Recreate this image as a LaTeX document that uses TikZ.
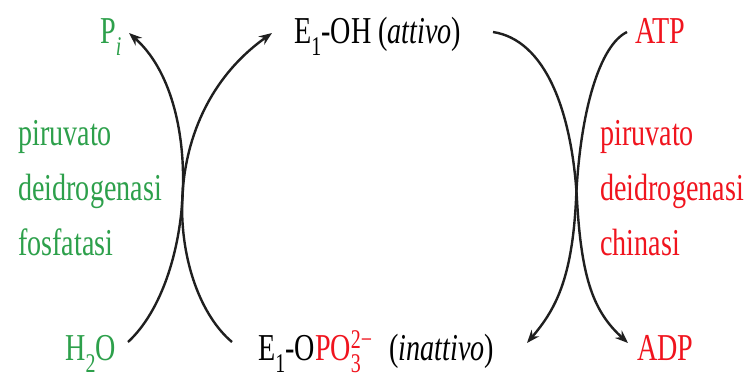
\documentclass[tikz,border=0pt]{standalone}
\usepackage{fontspec}
\setmainfont{Liberation Serif}[FakeStretch=0.74]
\usetikzlibrary{arrows.meta}
\definecolor{pgreen}{RGB}{45,160,75}
\definecolor{pred}{RGB}{240,20,30}
\newcommand\smallfnt{\fontsize{27}{27}\selectfont}
\newcommand\lowsub[1]{\raisebox{-0.34em}{\smallfnt #1}}
\newsavebox\ssbox
\newcommand\supsub[2]{\sbox\ssbox{\smallfnt #1}\makebox[\wd\ssbox][l]{\rlap{\raisebox{0.3em}{\usebox\ssbox}}\raisebox{-0.34em}{\smallfnt #2}}}
\begin{document}
\begin{tikzpicture}[x=1pt,y=-1pt,
  lbl/.style={anchor=base west, inner sep=0pt, font=\fontsize{38}{46}\selectfont},
  conn/.style={line width=2.4pt, draw=black!88},
  tip/.style={-{Stealth[length=13pt,width=10pt]}}]
\useasboundingbox (0,0) rectangle (749,378);
% top row
\node[lbl, text=pgreen] (pi) at (100,43) {P\lowsub{\itshape i}};
\node[lbl] (act) at (294,43) {E\lowsub{1}-OH (\textit{attivo})};
\node[lbl, text=pred] (atp) at (635,43) {ATP};
% bottom row
\node[lbl, text=pgreen] (h2o) at (65,360) {H\lowsub{2}O};
\node[lbl] (inact) at (258,360) {E\lowsub{1}-O\textcolor{pred}{PO\supsub{2−}{3}}\hspace{10pt} (\textit{inattivo})};
\node[lbl, text=pred] (adp) at (637,360) {ADP};
% enzyme labels
\node[lbl, text=pgreen] (f1) at (18,145) {piruvato};
\node[lbl, text=pgreen] (f2) at (18,200) {deidrogenasi};
\node[lbl, text=pgreen] (f3) at (18,255) {fosfatasi};
\node[lbl, text=pred] (k1) at (600,145) {piruvato};
\node[lbl, text=pred] (k2) at (600,200) {deidrogenasi};
\node[lbl, text=pred] (k3) at (600,255) {chinasi};
% connector ends
\coordinate (h2oE) at (128,342);
\coordinate (piE) at (129,33);
\coordinate (inactW) at (232,342);
\coordinate (actW) at (272,33);
\coordinate (actE) at (493,32);
\coordinate (adpW) at (628,343);
\coordinate (atpW) at (627,32);
\coordinate (inactE) at (527,343);
% left crossing (phosphatase)
\draw[conn, tip] (h2oE) .. controls (195,280) and (205,100) .. (piE);
\draw[conn, tip] (inactW) .. controls (170,290) and (150,120) .. (actW);
% right crossing (kinase)
\draw[conn, tip] (actE) .. controls (545,40) and (572,110) .. (577,200)
  .. controls (581.5,280) and (594,312) .. (adpW);
\draw[conn, tip] (atpW) .. controls (600,45) and (580,110) .. (576,200)
  .. controls (572,280) and (555,310) .. (inactE);
\end{tikzpicture}
\end{document}
